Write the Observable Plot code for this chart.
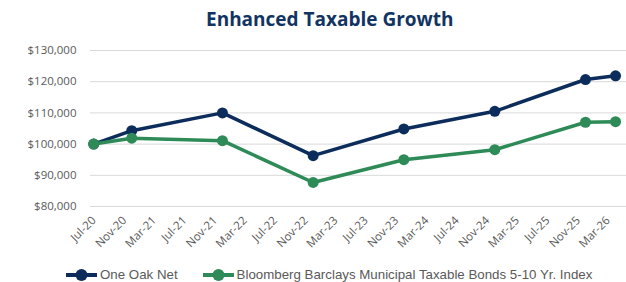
<!DOCTYPE html>
<html>
<head>
<meta charset="utf-8">
<script src="https://cdn.jsdelivr.net/npm/d3@7"></script>
<script src="https://cdn.jsdelivr.net/npm/@observablehq/plot@0.6"></script>
<style>
  html, body { margin: 0; padding: 0; background: #fff; width: 626px; height: 282px; overflow: hidden; position: relative; }
  #title { position: absolute; top: 10px; left: 206px; line-height: 19px; font-family: "Open Sans", sans-serif; font-weight: 700; font-size: 19px; color: #123463; white-space: nowrap; }
  #chart { position: absolute; top: 40px; left: 0; }
  #legend { position: absolute; top: 266px; left: 66px; height: 18px; line-height: 18px; display: flex; align-items: center; font-family: "Liberation Sans", Arial, sans-serif; font-size: 13.3px; color: #595959; white-space: nowrap; }
  .item { display: inline-flex; align-items: center; margin-right: 25px; }
  .item svg { margin-right: 3px; }
</style>
</head>
<body>
<div id="title">Enhanced Taxable Growth</div>
<div id="chart"></div>
<div id="legend"></div>
<script>
const dates = ["2020-06-30","2020-11-30","2021-11-30","2022-11-30","2023-11-30","2024-11-30","2025-11-30","2026-03-31"];
const oneOakNet = [100000,104300,110000,96300,104850,110500,120700,121900];
const bloombergIndex = [100000,101900,101100,87700,95000,98200,107000,107200];
const seriesNames = ["One Oak Net","Bloomberg Barclays Municipal Taxable Bonds 5-10 Yr. Index"];
const seriesColors = ["#0c2d5c","#2e8b57"];
const xTickLabels = ["Jul-20","Nov-20","Mar-21","Jul-21","Nov-21","Mar-22","Jul-22","Nov-22","Mar-23","Jul-23","Nov-23","Mar-24","Jul-24","Nov-24","Mar-25","Jul-25","Nov-25","Mar-26"];
const yTicks = [80000,90000,100000,110000,120000,130000];

const parseDate = d3.utcParse("%Y-%m-%d");
const parseTick = d3.utcParse("%b-%y");
const fmtTick = d3.utcFormat("%b-%y");
const xTicks = xTickLabels.map(parseTick);

const rows = [];
dates.forEach((d, i) => {
  rows.push({date: parseDate(d), value: oneOakNet[i], series: seriesNames[0]});
});
dates.forEach((d, i) => {
  rows.push({date: parseDate(d), value: bloombergIndex[i], series: seriesNames[1]});
});

const chart = Plot.plot({
  width: 626,
  height: 215,
  marginLeft: 90,
  marginRight: 0,
  marginTop: 10,
  marginBottom: 49,
  style: {fontFamily: "'Open Sans', sans-serif", fontSize: "11.5px", color: "#595959", background: "#fff"},
  x: {type: "utc", domain: [parseDate("2020-06-17"), parseDate("2026-05-14")]},
  y: {domain: [80000, 130000]},
  color: {domain: seriesNames, range: seriesColors},
  marks: [
    Plot.ruleY(yTicks, {stroke: "#d9d9d9", strokeWidth: 1}),
    Plot.axisY({ticks: yTicks, tickSize: 0, tickPadding: 14, tickFormat: d => "$" + d3.format(",")(d), fill: "#595959", label: null}),
    Plot.axisX({ticks: xTicks, tickSize: 0, tickPadding: 12, tickRotate: -45, tickFormat: fmtTick, fill: "#595959", label: null}),
    Plot.line(rows, {x: "date", y: "value", z: "series", stroke: "series", strokeWidth: 3.5}),
    Plot.dot(rows, {x: "date", y: "value", fill: "series", r: 5.5})
  ]
});
document.getElementById("chart").appendChild(chart);

const legend = document.getElementById("legend");
seriesNames.forEach((name, i) => {
  const item = document.createElement("span");
  item.className = "item";
  item.innerHTML = `<svg width="31" height="14"><line x1="0" x2="31" y1="7" y2="7" stroke="${seriesColors[i]}" stroke-width="4"/><circle cx="15.5" cy="7" r="6" fill="${seriesColors[i]}"/></svg>`;
  const t = document.createElement("span");
  t.textContent = name;
  item.appendChild(t);
  legend.appendChild(item);
});
</script>
</body>
</html>
